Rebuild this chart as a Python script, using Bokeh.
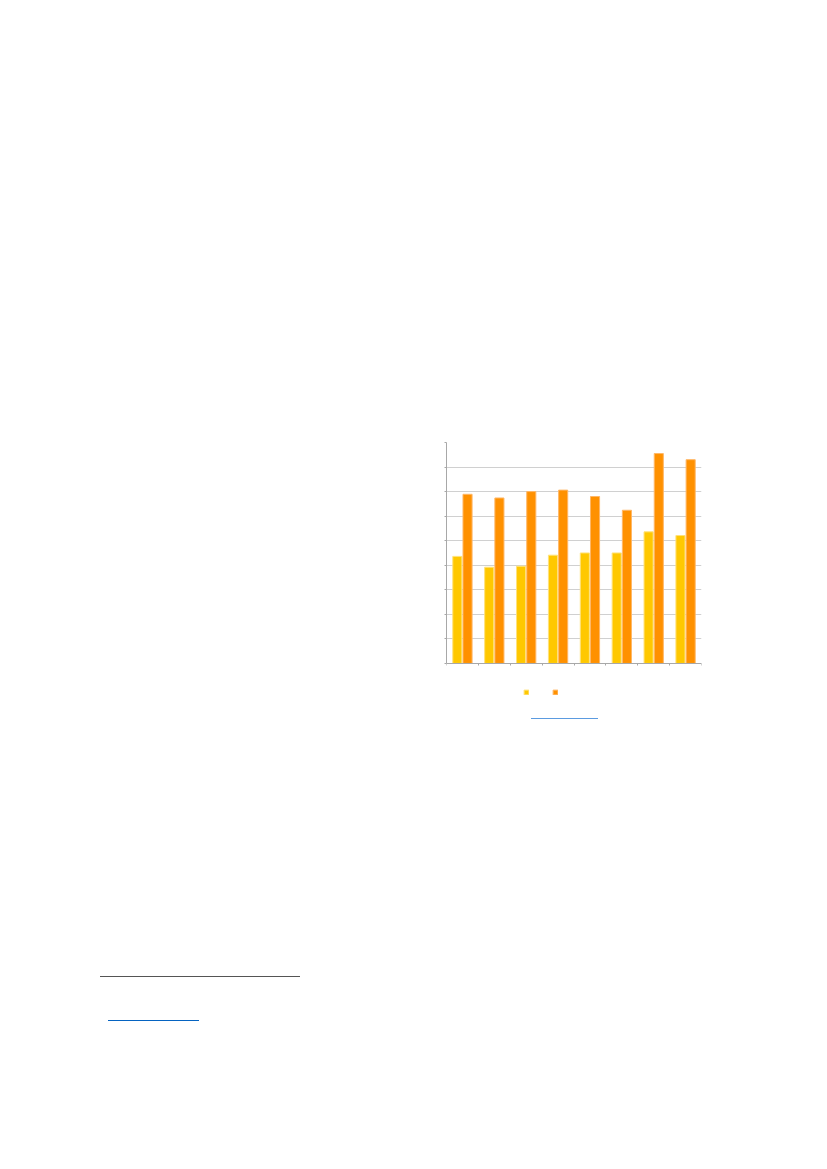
from bokeh.plotting import figure
from bokeh.models import (ColumnDataSource, Range1d, FixedTicker, CustomJSTickFormatter,
                          Legend, LegendItem, Spacer, Div)
from bokeh.layouts import column, row
from bokeh.transform import dodge
from bokeh.core.properties import value
from bokeh.embed import file_html
from bokeh.resources import INLINE

# ---- data (axis labels are not shown in the reference) ----
categories = [0.5, 1.5, 2.5, 3.5, 4.5, 5.5, 6.5, 7.5]
series_a = [43.6, 39.2, 39.6, 44.1, 45.0, 45.0, 53.6, 52.1]
series_b = [68.9, 67.4, 70.0, 70.6, 68.0, 62.4, 85.5, 83.0]
y_ticks = [0, 10, 20, 30, 40, 50, 60, 70, 80, 90]
x_ticks = [0, 1, 2, 3, 4, 5, 6, 7, 8]

src = ColumnDataSource(dict(x=categories, a=series_a, b=series_b))

# frame extends below zero so the legend row sits inside it
p = figure(width=275, height=278, output_backend="svg", toolbar_location=None,
           x_range=Range1d(0, 8), y_range=Range1d(-15.1, 90),
           min_border_left=10, min_border_right=10, min_border_top=10,
           min_border_bottom=10)
p.outline_line_color = None
p.background_fill_color = "white"
p.border_fill_color = "white"

ra = p.vbar(x=dodge("x", -0.16, range=p.x_range), top="a", bottom=0, width=0.285,
            source=src, fill_color="#FFC800", line_color="#FFE27A", line_width=1)
rb = p.vbar(x=dodge("x", 0.16, range=p.x_range), top="b", bottom=0, width=0.285,
            source=src, fill_color="#FF9100", line_color="#FFB766", line_width=1)

blank = CustomJSTickFormatter(code="return ''")
for ax in (p.xaxis[0], p.yaxis[0]):
    ax.formatter = blank
    ax.major_tick_in = 0
    ax.major_tick_out = 2
    ax.minor_tick_in = 0
    ax.minor_tick_out = 0
    ax.axis_line_color = "#a8a8a8"
    ax.major_tick_line_color = "#a8a8a8"
    ax.major_label_text_font_size = "1px"
    ax.major_label_standoff = 0
p.xaxis[0].ticker = FixedTicker(ticks=x_ticks)
p.xaxis[0].fixed_location = 0
p.yaxis[0].ticker = FixedTicker(ticks=y_ticks)
p.yaxis[0].bounds = (0, 90)
p.xgrid.visible = False
p.ygrid.ticker = FixedTicker(ticks=y_ticks)
p.ygrid.grid_line_color = "#d0d0d0"
p.ygrid.grid_line_width = 1

legend = Legend(items=[LegendItem(label=value(" "), renderers=[ra]),
                       LegendItem(label=value(" "), renderers=[rb])],
                orientation="horizontal", location=(77, 5),
                glyph_width=6, glyph_height=6, label_width=15, label_height=6,
                label_standoff=5, spacing=3, padding=0, margin=0,
                label_text_font_size="1px",
                border_line_color=None, background_fill_alpha=0)
p.add_layout(legend, "center")


def bar(w, color):
    return Div(text="", width=w, height=1,
               styles={"background-color": color, "margin": "0", "padding": "0"})


page = column(
    Spacer(height=432),
    row(Spacer(width=436), p),
    Spacer(height=8),
    row(Spacer(width=531), bar(67, "#5B9BE0")),
    Spacer(height=257),
    row(Spacer(width=100), bar(200, "#555555")),
    Spacer(height=43),
    row(Spacer(width=108), bar(91, "#0563C1")),
    Spacer(height=30),
)

open("out.html", "w").write(file_html(page, INLINE))
